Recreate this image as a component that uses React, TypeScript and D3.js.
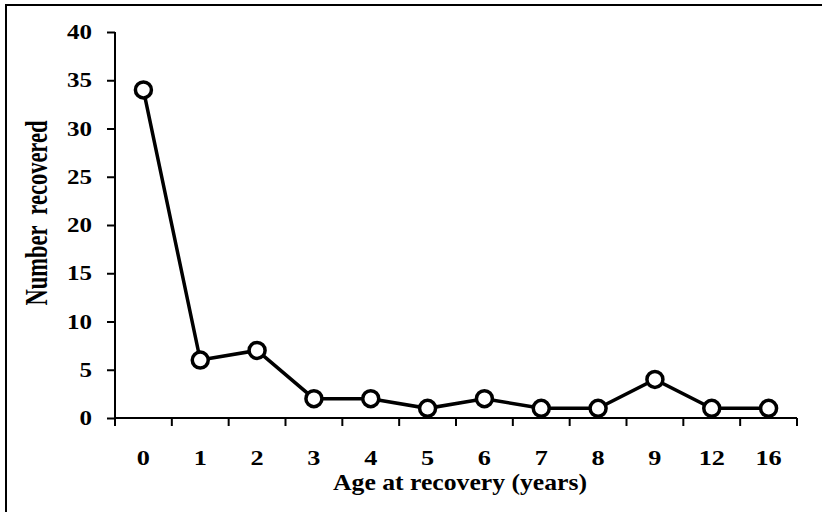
import { useEffect, useRef } from "react";
import * as d3 from "d3";

const ages = ["0", "1", "2", "3", "4", "5", "6", "7", "8", "9", "12", "16"];
const counts = [34, 6, 7, 2, 2, 1, 2, 1, 1, 4, 1, 1];
const yTicks = [0, 5, 10, 15, 20, 25, 30, 35, 40];

const W = 822;
const H = 512;
const FONT = "Liberation Serif, Times New Roman, serif";

const App = () => {
    const svgRef = useRef<SVGSVGElement | null>(null);

    useEffect(() => {
        const svg = d3.select(svgRef.current);
        svg.selectAll("*").remove();

        const left = 115;
        const right = 797;
        const top = 32;
        const bottom = 418;

        // frame, cut off on the right and at the bottom
        svg
            .append("path")
            .attr("d", `M6,${H + 5} L6,5 L${W + 5},5`)
            .attr("fill", "none")
            .attr("stroke", "#000")
            .attr("stroke-width", 2);

        const x = d3.scaleBand().domain(ages).range([left, right]);
        const y = d3.scaleLinear().domain([0, 40]).range([bottom, top]);

        // y axis (text is a bit wide in the original, so stretch it)
        const yAxis = svg
            .append("g")
            .attr("transform", `translate(${left},0)`)
            .call(d3.axisLeft(y).tickValues(yTicks).tickSize(8));
        yAxis.select(".domain").attr("stroke-width", 2).attr("d", `M0,${top}V${bottom}`);
        yAxis.selectAll(".tick line").attr("stroke-width", 2);
        yAxis
            .selectAll(".tick text")
            .attr("x", 0)
            .attr("dy", null)
            .attr("transform", "translate(-23,6.5) scale(1.25,1)")
            .attr("font-family", FONT)
            .attr("font-size", 20)
            .attr("font-weight", "bold")
            .attr("fill", "#000");

        // x axis: ticks on band edges
        const xg = svg.append("g").attr("transform", `translate(0,${bottom})`);
        xg.append("line")
            .attr("x1", left)
            .attr("x2", right)
            .attr("stroke", "#000")
            .attr("stroke-width", 2);
        const edges = ages.map((a) => x(a) as number).concat([right]);
        xg.selectAll(".edge")
            .data(edges)
            .enter()
            .append("line")
            .attr("x1", (d) => d)
            .attr("x2", (d) => d)
            .attr("y1", 0)
            .attr("y2", 8)
            .attr("stroke", "#000")
            .attr("stroke-width", 2);
        xg.selectAll(".lab")
            .data(ages)
            .enter()
            .append("text")
            .attr("transform", (d) => `translate(${(x(d) as number) + x.bandwidth() / 2},47) scale(1.25,1)`)
            .attr("text-anchor", "middle")
            .attr("font-family", FONT)
            .attr("font-size", 21)
            .attr("font-weight", "bold")
            .text((d) => d);

        // axis titles
        svg
            .append("text")
            .attr("transform", "translate(460,490) scale(1.07,1)")
            .attr("text-anchor", "middle")
            .attr("font-family", FONT)
            .attr("font-size", 24)
            .attr("font-weight", "bold")
            .text("Age at recovery (years)");

        svg
            .append("text")
            .attr("transform", "translate(47,213) scale(1.4,1) rotate(-90)")
            .attr("text-anchor", "middle")
            .attr("font-family", FONT)
            .attr("font-size", 22.5)
            .attr("font-weight", "bold")
            .style("white-space", "pre")
            .text("Number  recovered");

        // series
        const pts = ages.map((a, i) => [(x(a) as number) + x.bandwidth() / 2, y(counts[i])] as [number, number]);
        svg
            .append("path")
            .attr("d", d3.line()(pts))
            .attr("fill", "none")
            .attr("stroke", "#000")
            .attr("stroke-width", 3.5);
        svg
            .selectAll(".pt")
            .data(pts)
            .enter()
            .append("circle")
            .attr("cx", (d) => d[0])
            .attr("cy", (d) => d[1])
            .attr("r", 8)
            .attr("fill", "#fff")
            .attr("stroke", "#000")
            .attr("stroke-width", 3.5);
    }, []);

    return (
        <svg
            ref={svgRef}
            width={W}
            height={H}
            style={{ position: "absolute", left: 0, top: 0, background: "#fff" }}
        ></svg>
    );
};

export default App;
